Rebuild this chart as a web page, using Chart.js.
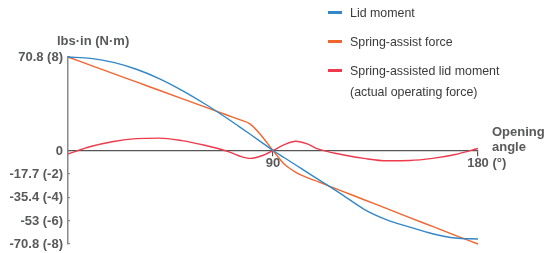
<!DOCTYPE html>
<html>
<head>
<meta charset="utf-8">
<script src="https://cdn.jsdelivr.net/npm/chart.js@4"></script>
<style>
  html, body { margin: 0; padding: 0; background: #fff; }
  #wrap { width: 551px; height: 253px; }
</style>
</head>
<body>
<div id="wrap"><canvas id="moment-chart" width="551" height="253"></canvas></div>
<script>
// Opening angle (deg)
const angles = [0, 10, 20, 30, 40, 50, 60, 70, 75, 80, 85, 90, 95, 100, 105, 110, 120, 130, 140, 150, 160, 170, 180];
// lbs·in
const lidMoment = [70.8, 69.8, 66.7, 61.5, 54.5, 45.6, 35.4, 24.2, 18.3, 12.3, 6.2, 0, -5.5, -11, -16.5, -22, -33, -44.5, -52.5, -58, -63, -66.3, -67];
const springForce = [70.8, 64.5, 58.2, 51.9, 45.6, 39.3, 33, 26.7, 23.5, 20, 11, 0, -10.5, -16.5, -20.5, -23.8, -30.5, -37.3, -44, -50.8, -57.5, -64.2, -70.8];
const assistedMoment = [-2.5, 3, 6.8, 9, 9.4, 7.5, 4, -0.6, -4, -6, -4, 0, 4.5, 7, 5, 1, -3, -6, -7.8, -7.6, -6, -3, 1.5];

const seriesNames = ['Lid moment', 'Spring-assist force', 'Spring-assisted lid moment\n(actual operating force)'];
const seriesColors = ['#3387c7', '#f2652f', '#ee3a4c'];

const yTickValues = [70.8, 0, -17.7, -35.4, -53, -70.8];
const yTickLabels = ['70.8 (8)', '0', '-17.7 (-2)', '-35.4 (-4)', '-53 (-6)', '-70.8 (-8)'];
const xTickValues = [90, 180];
const xTickLabels = ['90', '180 (°)'];

const toPoints = (vals) => vals.map((v, i) => ({ x: angles[i], y: v }));

const BOLD = 'bold 13px "Liberation Sans", Arial, sans-serif';
const TEXT_GRAY = '#58595b';

// labels, axis titles and legend drawn on top of the chart
const labelsPlugin = {
  id: 'labels',
  afterDraw(chart) {
    const ctx = chart.ctx;
    const xs = chart.scales.x;
    const ys = chart.scales.y;
    const area = chart.chartArea;
    const axisX = xs.getPixelForValue(0);
    const zeroY = ys.getPixelForValue(0);
    ctx.save();
    ctx.font = BOLD;
    ctx.fillStyle = TEXT_GRAY;
    ctx.textBaseline = 'middle';

    // y tick labels
    ctx.textAlign = 'right';
    yTickValues.forEach((v, i) => {
      ctx.fillText(yTickLabels[i], axisX - 5, ys.getPixelForValue(v) + 0.5);
    });

    // x tick labels (number centred on its tick)
    ctx.textAlign = 'left';
    xTickValues.forEach((v, i) => {
      const first = xTickLabels[i].split(' ')[0];
      const w = ctx.measureText(first).width;
      ctx.fillText(xTickLabels[i], xs.getPixelForValue(v) - w / 2, zeroY + 13);
    });

    // axis titles
    ctx.fillText('lbs·in (N·m)', area.left - 11, area.top - 16);
    ctx.fillText('Opening', area.right + 14, zeroY - 18);
    ctx.fillText('angle', area.right + 14, zeroY - 3);

    // legend
    ctx.font = '12.4px "Liberation Sans", Arial, sans-serif';
    ctx.fillStyle = '#3a3a3a';
    let y = 12.5;
    chart.data.datasets.forEach(ds => {
      ctx.strokeStyle = ds.borderColor;
      ctx.lineWidth = 3;
      ctx.beginPath();
      ctx.moveTo(328, y);
      ctx.lineTo(342, y);
      ctx.stroke();
      ds.label.split('\n').forEach((line, j) => {
        ctx.fillText(line, 350, y + 1.5 + j * 21);
      });
      y += 29;
    });
    ctx.restore();
  }
};

const ctx = document.getElementById('moment-chart').getContext('2d');
new Chart(ctx, {
  type: 'line',
  data: {
    datasets: [lidMoment, springForce, assistedMoment].map((vals, i) => ({
      label: seriesNames[i],
      data: toPoints(vals),
      borderColor: seriesColors[i],
      backgroundColor: seriesColors[i],
      borderWidth: 1.4,
      pointRadius: 0,
      cubicInterpolationMode: 'monotone',
      fill: false,
      clip: false
    }))
  },
  options: {
    responsive: false,
    animation: false,
    events: [],
    layout: { padding: { left: 68, right: 73, top: 57, bottom: 9 } },
    plugins: { legend: { display: false }, tooltip: { enabled: false } },
    scales: {
      x: {
        type: 'linear',
        min: 0,
        max: 180,
        position: { y: 0 },
        ticks: { display: false, stepSize: 90 },
        grid: { drawOnChartArea: false, drawTicks: true, tickLength: 5, color: '#555', lineWidth: 1.2 },
        border: { display: true, color: '#555', width: 1.3 }
      },
      y: {
        type: 'linear',
        min: -70.8,
        max: 70.8,
        position: { x: 0 },
        afterBuildTicks: (scale) => { scale.ticks = yTickValues.map(v => ({ value: v })); },
        ticks: { display: false },
        grid: { drawOnChartArea: false, drawTicks: true, tickLength: -3, color: '#888', lineWidth: 1.2 },
        border: { display: true, color: '#8a8a8a', width: 1.5 }
      }
    }
  },
  plugins: [labelsPlugin]
});
</script>
</body>
</html>
